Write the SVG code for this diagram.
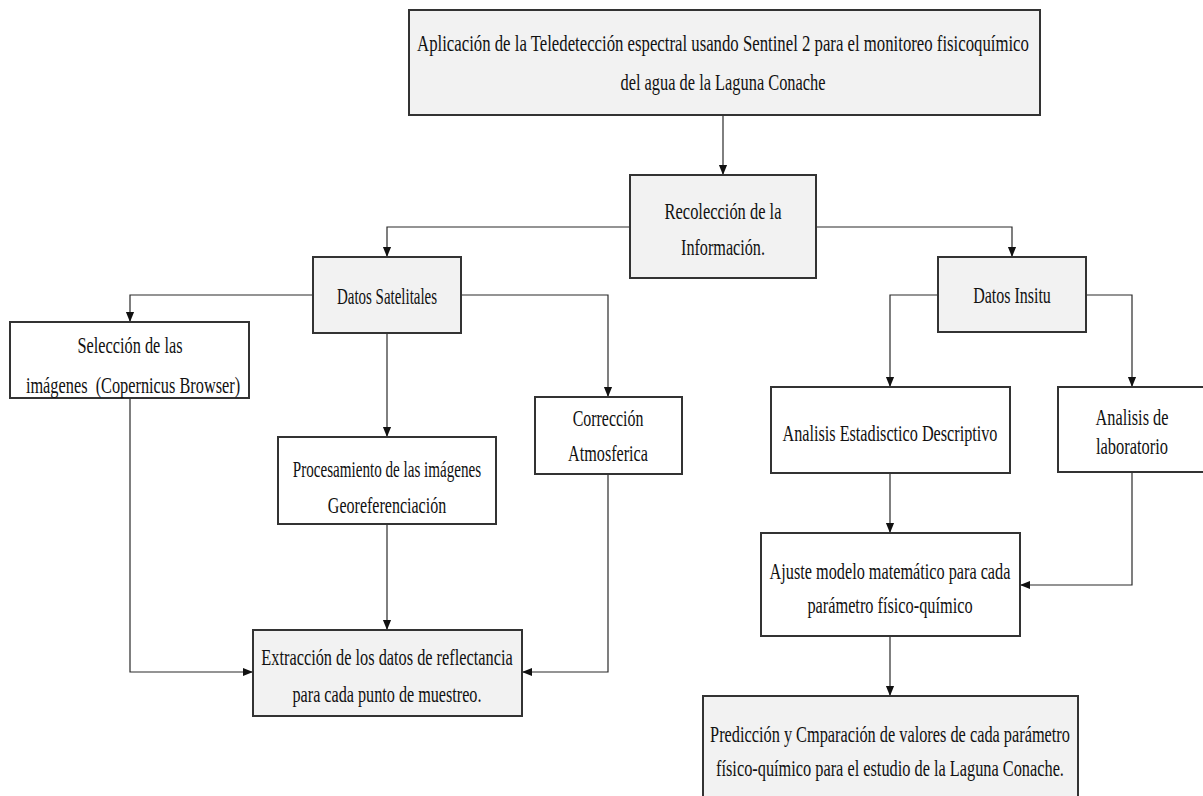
<svg xmlns="http://www.w3.org/2000/svg" width="1203" height="796" viewBox="0 0 1203 796">
<defs>
<marker id="ah" markerUnits="userSpaceOnUse" markerWidth="10" markerHeight="12" refX="11" refY="4.5" orient="auto" viewBox="0 0 11 9">
<path d="M0,0 L11,4.5 L0,9 Z" fill="#111"/>
</marker>
</defs>
<style>
.box{stroke:#333333;stroke-width:2;}
.g{fill:#f2f2f2;}
.w{fill:#ffffff;}
text{font-family:"Liberation Serif","Times New Roman",serif;font-size:24px;fill:#111;text-anchor:middle;}
.c{fill:none;stroke:#2a2a2a;stroke-width:1.2;marker-end:url(#ah);}
</style>
<rect width="1203" height="796" fill="#ffffff"/>
<g id="connectors">
<path class="c" d="M723,115 V175"/>
<path class="c" d="M630,227 H387 V257"/>
<path class="c" d="M816,227 H1012 V257"/>
<path class="c" d="M313,295 H130 V322"/>
<path class="c" d="M461,295 H608 V397"/>
<path class="c" d="M387,333 V437"/>
<path class="c" d="M387,524 V630"/>
<path class="c" d="M130,398 V672 H253"/>
<path class="c" d="M608,474 V672 H522"/>
<path class="c" d="M938,295 H890 V387"/>
<path class="c" d="M1086,295 H1132 V387"/>
<path class="c" d="M890,473 V533"/>
<path class="c" d="M1132,472 V585 H1020"/>
<path class="c" d="M890,636 V696"/>
</g>
<g id="n-titulo">
<rect class="box g" x="409" y="10" width="631" height="105"/>
<text transform="matrix(0.7 0 0 1 723 51)" x="0" y="0" textLength="874" lengthAdjust="spacingAndGlyphs">Aplicación de la Teledetección espectral usando Sentinel 2 para el monitoreo fisicoquímico</text>
<text transform="matrix(0.7 0 0 1 723 90)" x="0" y="0" textLength="293" lengthAdjust="spacingAndGlyphs">del agua de la Laguna Conache</text>
</g>
<g id="n-recoleccion">
<rect class="box g" x="630" y="175" width="186" height="103"/>
<text transform="matrix(0.7 0 0 1 723 219)" x="0" y="0" textLength="167" lengthAdjust="spacingAndGlyphs">Recolección de la</text>
<text transform="matrix(0.7 0 0 1 723 255)" x="0" y="0" textLength="120" lengthAdjust="spacingAndGlyphs">Información.</text>
</g>
<g id="n-satelitales">
<rect class="box g" x="313" y="257" width="148" height="76"/>
<text transform="matrix(0.7 0 0 1 387 304)" x="0" y="0" textLength="143" lengthAdjust="spacingAndGlyphs">Datos Satelitales</text>
</g>
<g id="n-insitu">
<rect class="box g" x="938" y="257" width="148" height="75"/>
<text transform="matrix(0.7 0 0 1 1012 303)" x="0" y="0" textLength="111" lengthAdjust="spacingAndGlyphs">Datos Insitu</text>
</g>
<g id="n-seleccion">
<rect class="box w" x="10" y="322" width="239" height="76"/>
<text transform="matrix(0.7 0 0 1 130 353)" x="0" y="0" textLength="150" lengthAdjust="spacingAndGlyphs">Selección de las</text>
<text transform="matrix(0.7 0 0 1 133 393)" x="0" y="0" textLength="306" lengthAdjust="spacingAndGlyphs">imágenes&#160; (Copernicus Browser)</text>
</g>
<g id="n-correccion">
<rect class="box w" x="535" y="397" width="147" height="77"/>
<text transform="matrix(0.7 0 0 1 608 426)" x="0" y="0" textLength="101" lengthAdjust="spacingAndGlyphs">Corrección</text>
<text transform="matrix(0.7 0 0 1 608 461)" x="0" y="0" textLength="114" lengthAdjust="spacingAndGlyphs">Atmosferica</text>
</g>
<g id="n-procesamiento">
<rect class="box w" x="278" y="437" width="218" height="87"/>
<text transform="matrix(0.7 0 0 1 387 477)" x="0" y="0" textLength="269" lengthAdjust="spacingAndGlyphs">Procesamiento de las imágenes</text>
<text transform="matrix(0.7 0 0 1 387 513)" x="0" y="0" textLength="169" lengthAdjust="spacingAndGlyphs">Georeferenciación</text>
</g>
<g id="n-extraccion">
<rect class="box g" x="253" y="630" width="269" height="86"/>
<text transform="matrix(0.7 0 0 1 387 665)" x="0" y="0" textLength="359" lengthAdjust="spacingAndGlyphs">Extracción de los datos de reflectancia</text>
<text transform="matrix(0.7 0 0 1 387 702)" x="0" y="0" textLength="270" lengthAdjust="spacingAndGlyphs">para cada punto de muestreo.</text>
</g>
<g id="n-estadistico">
<rect class="box w" x="771" y="387" width="239" height="86"/>
<text transform="matrix(0.7 0 0 1 890 441)" x="0" y="0" textLength="307" lengthAdjust="spacingAndGlyphs">Analisis Estadisctico Descriptivo</text>
</g>
<g id="n-laboratorio">
<rect class="box w" x="1058" y="387" width="150" height="85"/>
<text transform="matrix(0.7 0 0 1 1132 425)" x="0" y="0" textLength="104" lengthAdjust="spacingAndGlyphs">Analisis de</text>
<text transform="matrix(0.7 0 0 1 1132 454)" x="0" y="0" textLength="103" lengthAdjust="spacingAndGlyphs">laboratorio</text>
</g>
<g id="n-ajuste">
<rect class="box w" x="761" y="533" width="259" height="103"/>
<text transform="matrix(0.7 0 0 1 890 579)" x="0" y="0" textLength="344" lengthAdjust="spacingAndGlyphs">Ajuste modelo matemático para cada</text>
<text transform="matrix(0.7 0 0 1 890 613)" x="0" y="0" textLength="236" lengthAdjust="spacingAndGlyphs">parámetro físico-químico</text>
</g>
<g id="n-prediccion">
<rect class="box g" x="703" y="696" width="375" height="105"/>
<text transform="matrix(0.7 0 0 1 890 742)" x="0" y="0" textLength="514" lengthAdjust="spacingAndGlyphs">Predicción y Cmparación de valores de cada parámetro</text>
<text transform="matrix(0.7 0 0 1 890 776)" x="0" y="0" textLength="497" lengthAdjust="spacingAndGlyphs">físico-químico para el estudio de la Laguna Conache.</text>
</g>
</svg>
